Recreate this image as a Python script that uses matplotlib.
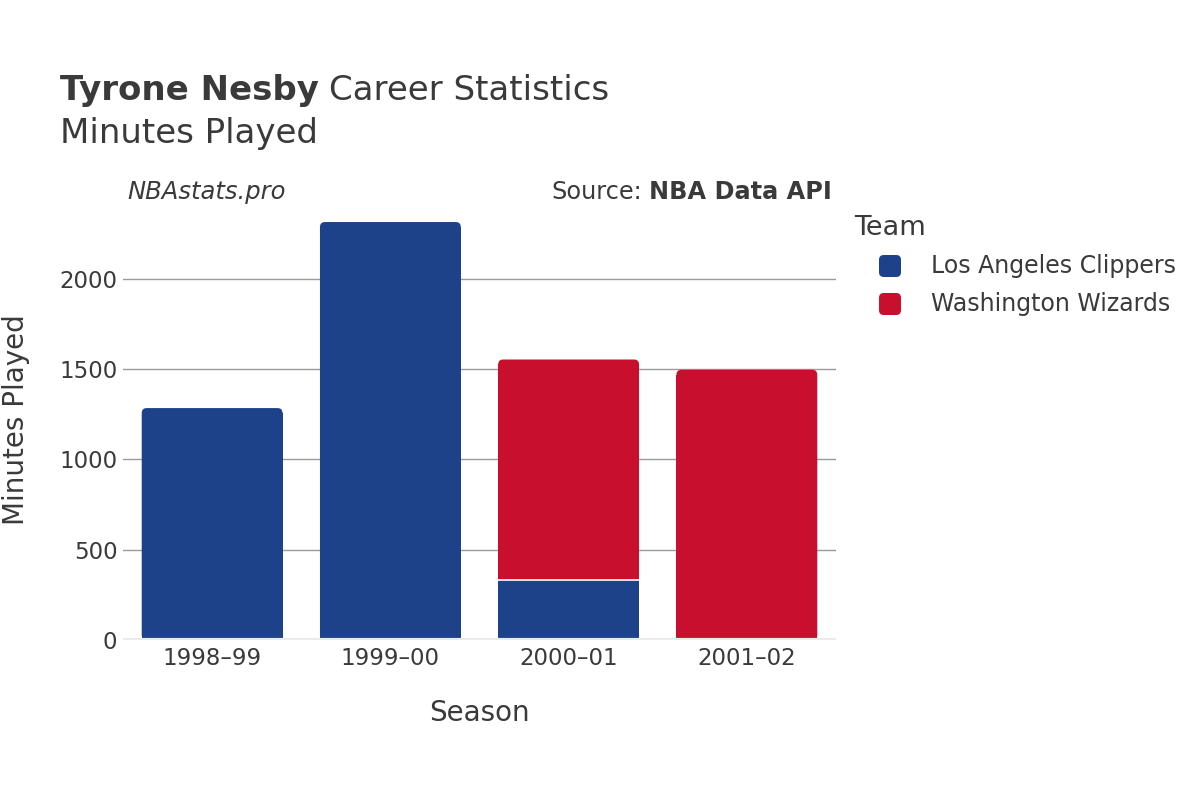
import matplotlib
matplotlib.use("Agg")
import matplotlib.pyplot as plt
from matplotlib.patches import FancyBboxPatch
import numpy as np

seasons = ["1998–99", "1999–00", "2000–01", "2001–02"]
teams = ["Los Angeles Clippers", "Washington Wizards"]
clippers = [1284, 2314, 333, 0]
wizards = [0, 0, 1220, 1496]
team_colors = ["#1D428A", "#C8102E"]
yticks = [0, 500, 1000, 1500, 2000]

plt.rcParams['font.family'] = ['DejaVu Sans']
TXT = "#3a3a3a"

fig = plt.figure(figsize=(12, 8), dpi=100)
ax = fig.add_axes([123/1200, 160/800, (836-123)/1200, (640-200)/800])

x = np.arange(len(seasons))
width = 0.79
series = [clippers, wizards]
totals = np.array(clippers) + np.array(wizards)
ymax = 2436
ax.set_xlim(-0.5, len(seasons) - 0.5)
ax.set_ylim(0, ymax)

for t in yticks[1:]:
    ax.axhline(t, color="#9a9a9a", lw=1, zorder=0)
ax.axhline(0, color="#ebebeb", lw=3, zorder=3)

px_x = (len(seasons)) / 713.0
px_y = ymax / 440.0
r_px = 5
aspect = px_y / px_x

bottoms = np.zeros(len(seasons))
for i, vals in enumerate(series):
    vals = np.array(vals, dtype=float)
    for j in range(len(seasons)):
        v = vals[j]
        if v <= 0:
            continue
        b = bottoms[j]
        is_top = np.isclose(b + v, totals[j])
        if is_top:
            ry = r_px * px_y
            p = FancyBboxPatch((x[j] - width/2, b), width, v,
                               boxstyle=f"round,pad=0,rounding_size={r_px*px_x}",
                               mutation_aspect=aspect,
                               facecolor=team_colors[i], edgecolor="none", zorder=2)
            ax.add_patch(p)
            ax.bar(x[j], v - ry, width=width, bottom=b, color=team_colors[i],
                   edgecolor="none", zorder=2)
        else:
            ax.bar(x[j], v, width=width, bottom=b, color=team_colors[i],
                   edgecolor="none", zorder=2)
        if b > 0:
            ax.plot([x[j] - width/2, x[j] + width/2], [b, b], color="white", lw=1.2, zorder=2.5)
    bottoms += vals

for s in ax.spines.values():
    s.set_visible(False)
ax.set_xticks(x)
ax.set_xticklabels(seasons, fontsize=16.5, color=TXT)
ax.set_yticks(yticks)
ax.set_yticklabels([str(t) for t in yticks], fontsize=16.5, color=TXT)
ax.tick_params(axis='both', length=0)
ax.tick_params(axis='x', pad=5)
ax.tick_params(axis='y', pad=4)
ax.set_xlabel("Season", fontsize=20, color=TXT, labelpad=21)
ax.set_ylabel("Minutes Played", fontsize=20, color=TXT, labelpad=21)

renderer = fig.canvas.get_renderer()

def after(t, gap_px):
    bb = t.get_window_extent(renderer)
    return (bb.x1 + gap_px) / 1200

t1 = fig.text(60/1200, 1 - 100/800, "Tyrone Nesby", fontsize=24.5, fontweight="bold", color=TXT)
fig.text(after(t1, 10), 1 - 100/800, "Career Statistics", fontsize=24.5, color=TXT)
fig.text(60/1200, 1 - 143/800, "Minutes Played", fontsize=24.5, color=TXT)
fig.text(127/1200, 1 - 199/800, "NBAstats.pro", fontsize=17.5, style="italic", color=TXT)
t2 = fig.text(832/1200, 1 - 199/800, "NBA Data API", fontsize=17.3, fontweight="bold", color=TXT, ha="right")
bb2 = t2.get_window_extent(renderer)
fig.text((bb2.x0 - 7)/1200, 1 - 199/800, "Source:", fontsize=17.3, color=TXT, ha="right")

fig.text(854/1200, 1 - 235/800, "Team", fontsize=19.5, color=TXT)
for k, name in enumerate(teams):
    yc = 266 + 38 * k
    fig.patches.append(FancyBboxPatch((879/1200, 1 - (yc + 11)/800), 22/1200, 22/800,
                                      boxstyle="round,pad=0,rounding_size=0.004",
                                      transform=fig.transFigure, facecolor=team_colors[k],
                                      edgecolor="none", mutation_aspect=1.5))
    fig.text(931/1200, 1 - yc/800, name, fontsize=17, color=TXT, va="center")

fig.savefig("out.png", dpi=100)
